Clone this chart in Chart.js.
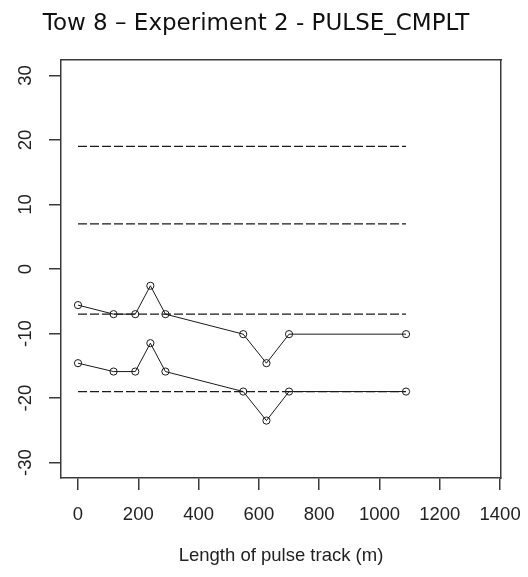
<!DOCTYPE html>
<html>
<head>
<meta charset="utf-8">
<script src="https://cdn.jsdelivr.net/npm/chart.js@4/dist/chart.umd.min.js"></script>
<style>
  html, body { margin: 0; padding: 0; background: #ffffff; }
  #wrap { width: 528px; height: 577px; }
  canvas { display: block; }
</style>
</head>
<body>
<div id="wrap"><canvas id="c" width="528" height="577"></canvas></div>
<script>
// ---- data ----
const trackPositions = [0, 118, 190, 240, 290, 548, 625, 700, 1088];      // m
const upperSeries    = [-5.6, -7.0, -7.0, -2.6, -7.0, -10.1, -14.6, -10.1, -10.1];
const lowerSeries    = [-14.6, -15.9, -15.9, -11.5, -15.9, -19.0, -23.5, -19.0, -19.0];
const referenceLevels = [19, 7, -7, -19];
const referenceSpan   = [0, 1088];
const xTickValues = [0, 200, 400, 600, 800, 1000, 1200, 1400];
const yTickValues = [-30, -20, -10, 0, 10, 20, 30];
const chartTitle = 'Tow 8 \u2013 Experiment 2 - PULSE_CMPLT';
const xAxisTitle = 'Length of pulse track (m)';

// ---- build datasets ----
const toPoints = (xs, ys) => xs.map((x, i) => ({ x: x, y: ys[i] }));
const ink = '#1a1a1a';
const axisInk = '#3a3a3a';

const datasets = [];
referenceLevels.forEach(level => {
  datasets.push({
    data: referenceSpan.map(x => ({ x: x, y: level })),
    showLine: true,
    borderColor: ink,
    borderWidth: 1.2,
    borderDash: [9, 3],
    pointRadius: 0,
    fill: false
  });
});
[upperSeries, lowerSeries].forEach(series => {
  datasets.push({
    data: toPoints(trackPositions, series),
    showLine: true,
    borderColor: ink,
    borderWidth: 1,
    pointRadius: 3.6,
    pointBorderWidth: 1,
    pointBorderColor: ink,
    pointBackgroundColor: 'rgba(255,255,255,0)',
    fill: false
  });
});

const tickFont = { family: "'Liberation Sans', Arial, sans-serif", size: 18.5 };

new Chart(document.getElementById('c'), {
  type: 'scatter',
  data: { datasets: datasets },
  options: {
    responsive: false,
    animation: false,
    devicePixelRatio: 1,
    layout: { padding: { left: 0, right: 16, top: 0, bottom: 0 } },
    plugins: {
      legend: { display: false },
      tooltip: { enabled: false },
      title: {
        display: true,
        text: chartTitle,
        color: '#111',
        font: { family: "'DejaVu Sans', Verdana, sans-serif", size: 23, weight: 'normal', lineHeight: 1.2 },
        padding: { top: 10, bottom: 22.4 }
      }
    },
    scales: {
      x: {
        type: 'linear',
        position: 'bottom',
        min: -56.4,
        max: 1403,
        afterBuildTicks: s => { s.ticks = xTickValues.map(v => ({ value: v })); },
        afterFit: s => { s.height = 99; s.paddingLeft = 0; s.paddingRight = 0; },
        ticks: {
          includeBounds: false,
          color: '#222',
          font: tickFont,
          padding: 14,
          maxRotation: 0,
          minRotation: 0,
          autoSkip: false,
          callback: v => String(v)
        },
        grid: { display: true, drawOnChartArea: false, drawTicks: true, tickLength: 12, color: axisInk, lineWidth: 1.5 },
        border: { display: true, color: axisInk, width: 1.5 },
        title: { display: true, text: xAxisTitle, color: '#222', font: tickFont, padding: { top: 0, bottom: 10 } }
      },
      y: {
        type: 'linear',
        position: 'left',
        min: -32.4,
        max: 32.4,
        afterBuildTicks: s => { s.ticks = yTickValues.map(v => ({ value: v })); },
        afterFit: s => { s.width = 61; s.paddingTop = 0; s.paddingBottom = 0; },
        ticks: {
          includeBounds: false,
          color: '#222',
          font: tickFont,
          padding: 10,
          minRotation: 90,
          maxRotation: 90,
          crossAlign: 'center',
          autoSkip: false,
          callback: v => String(v)
        },
        grid: { display: true, drawOnChartArea: false, drawTicks: true, tickLength: 12, color: axisInk, lineWidth: 1.5 },
        border: { display: true, color: axisInk, width: 1.5 }
      },
      yRight: {
        type: 'linear',
        position: 'right',
        min: -32.4,
        max: 32.4,
        afterFit: s => { s.width = 11; s.paddingTop = 0; s.paddingBottom = 0; },
        ticks: { display: false },
        grid: { display: false },
        border: { display: true, color: axisInk, width: 1.5 }
      },
      xTop: {
        type: 'linear',
        position: 'top',
        min: -56.4,
        max: 1403,
        afterFit: s => { s.height = 0; s.paddingLeft = 0; s.paddingRight = 0; },
        ticks: { display: false },
        grid: { display: false },
        border: { display: true, color: axisInk, width: 1.5 }
      }
    }
  }
});
</script>
</body>
</html>
